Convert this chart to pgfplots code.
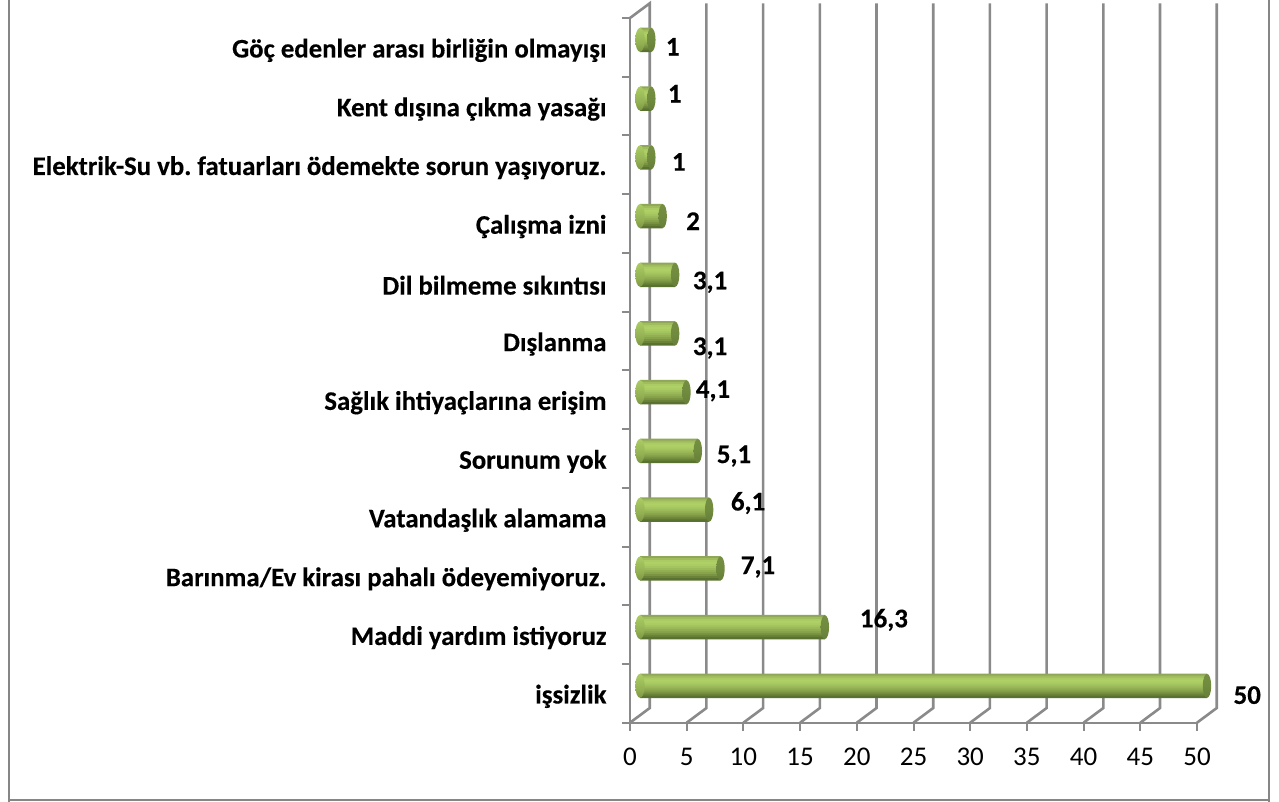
\documentclass[border=0pt]{standalone}
\usepackage{pgfplots}
\pgfplotsset{compat=1.18}
\usepackage{fontspec}
\setmainfont{Carlito}
\frenchspacing
\newcommand{\heavy}{\bfseries\addfontfeature{FakeBold=0.3}}
\definecolor{gridgray}{HTML}{8A8A8A}
\definecolor{framegray}{HTML}{868686}
\definecolor{barA}{HTML}{5A7230}
\definecolor{barB}{HTML}{92AF52}
\definecolor{barC}{HTML}{AED066}
\definecolor{barD}{HTML}{8FA858}
\definecolor{capA}{RGB}{92,116,50}
\definecolor{capB}{RGB}{112,138,62}
\definecolor{capC}{RGB}{122,148,70}
% strips of the bar, top to bottom
\definecolor{strip11}{HTML}{8FA858}
\definecolor{strip9}{HTML}{A0BC5E}
\definecolor{strip7}{HTML}{ABCC64}
\definecolor{strip5}{HTML}{AED066}
\definecolor{strip3}{HTML}{ABCC63}
\definecolor{strip1}{HTML}{A4C45F}
\definecolor{strip-1}{HTML}{9CBA59}
\definecolor{strip-3}{HTML}{92AF52}
\definecolor{strip-5}{HTML}{87A44B}
\definecolor{strip-7}{HTML}{7A9443}
\definecolor{strip-9}{HTML}{6A8339}
\definecolor{strip-11}{HTML}{5A7230}
\pgfdeclareverticalshading{barshade}{100bp}{
  color(0bp)=(barA);
  color(42bp)=(barB);
  color(79bp)=(barC);
  color(100bp)=(barD)}
\pgfdeclareverticalshading{capshade}{100bp}{
  color(0bp)=(capA);
  color(50bp)=(capB);
  color(100bp)=(capC)}
\pgfdeclareplotmark{capL}{\pgfpathellipse{\pgfpointorigin}{\pgfqpoint{4.7pt}{0pt}}{\pgfqpoint{0pt}{12pt}}\pgfshadepath{barshade}{0}\pgfusepath{discard}}
\pgfdeclareplotmark{capR}{\pgfpathellipse{\pgfpointorigin}{\pgfqpoint{4.2pt}{0pt}}{\pgfqpoint{0pt}{12pt}}\pgfshadepath{capshade}{0}\pgfusepath{discard}}
% values
\pgfplotstableread{
y val
0.5 50
1.5 16.3
2.5 7.1
3.5 6.1
4.5 5.1
5.5 4.1
6.5 3.1
7.5 3.1
8.5 2
9.5 1
10.5 1
11.5 1
}\bars
\begin{document}
\begin{tikzpicture}[x=1pt,y=1pt]
\path[use as bounding box] (0,0) rectangle (1279,801);
\draw[framegray, line width=1.8pt] (9,-2) -- (9,803);
\draw[framegray, line width=1.8pt] (1269,-2) -- (1269,803);
\draw[framegray, line width=1.8pt] (9,0.7) -- (1269,0.7);
\begin{axis}[
  at={(630pt,78.3pt)}, anchor=south west,
  scale only axis, width=567pt, height=704.7pt,
  xmin=0, xmax=50, ymin=0, ymax=12,
  clip=false,
  axis x line*=bottom, axis y line*=left,
  axis line style={gridgray, line width=2.4pt, -},
  tick style={gridgray, line width=2pt},
  tick align=outside,
  major tick length=8pt,
  xtick={0,5,...,50},
  ytick={0,1,...,12},
  yticklabels={},
  extra y ticks={0.5,1.5,...,11.5},
  extra y tick labels={işsizlik,Maddi yardım istiyoruz,Barınma/Ev kirası pahalı ödeyemiyoruz.,Vatandaşlık alamama,Sorunum yok,Sağlık ihtiyaçlarına erişim,Dışlanma,Dil bilmeme sıkıntısı,Çalışma izni,Elektrik-Su vb. fatuarları ödemekte sorun yaşıyoruz.,Kent dışına çıkma yasağı,Göç edenler arası birliğin olmayışı},
  extra y tick style={tick style={draw=none}, major tick length=0pt},
  tick label style={font=\fontsize{27}{30}\selectfont, /pgf/number format/assume math mode=true},
  yticklabel style={font=\fontsize{26.8}{30}\selectfont\heavy, anchor=east, xshift=-20pt, yshift=-3pt},
  xticklabel style={yshift=-14pt},
]
% back wall grid, offset from the front plane
\addplot[gridgray, line width=2.6pt, unbounded coords=jump, forget plot] coordinates {
 (0,0) (1.74,0.25) (1.74,12.25) (0,12) (nan,nan)
 (5,0) (6.74,0.25) (6.74,12.25) (nan,nan)
 (10,0) (11.74,0.25) (11.74,12.25) (nan,nan)
 (15,0) (16.74,0.25) (16.74,12.25) (nan,nan)
 (20,0) (21.74,0.25) (21.74,12.25) (nan,nan)
 (25,0) (26.74,0.25) (26.74,12.25) (nan,nan)
 (30,0) (31.74,0.25) (31.74,12.25) (nan,nan)
 (35,0) (36.74,0.25) (36.74,12.25) (nan,nan)
 (40,0) (41.74,0.25) (41.74,12.25) (nan,nan)
 (45,0) (46.74,0.25) (46.74,12.25) (nan,nan)
 (50,0) (51.74,0.25) (51.74,12.25)
};
\end{axis}
\begin{axis}[
  at={(640pt,85.8pt)}, anchor=south west,
  scale only axis, width=567pt, height=704.7pt,
  xmin=0, xmax=50, ymin=0, ymax=12,
  clip=false, hide axis,
]
\addplot[only marks, mark=capL, forget plot] coordinates {(0,0.5)(0,1.5)(0,2.5)(0,3.5)(0,4.5)(0,5.5)(0,6.5)(0,7.5)(0,8.5)(0,9.5)(0,10.5)(0,11.5)};
% each cylinder is stacked from flat strips, a tikz shade only scales to the bar length
\pgfplotsinvokeforeach{11,9,7,5,3,1,-1,-3,-5,-7,-9,-11}{
  \addplot[xbar, bar width=2.5pt, bar shift=#1pt, draw=none, fill=strip#1, forget plot] table[x=val,y=y] {\bars};
}
\addplot[only marks, mark=capR, forget plot] table[x=val,y=y] {\bars};
\end{axis}
\begin{axis}[
  at={(630pt,78.3pt)}, anchor=south west,
  scale only axis, width=567pt, height=704.7pt,
  xmin=0, xmax=50, ymin=0, ymax=12,
  clip=false, hide axis,
]
% value labels, hand placed as in the original
\addplot[only marks, mark=none, point meta=explicit symbolic,
  nodes near coords, nodes near coords align=center,
  every node near coord/.append style={font=\fontsize{27}{30}\selectfont\heavy, inner sep=0pt}]
  table[meta=lab] {
x y lab
3.77 11.51 1
3.95 10.71 1
4.30 9.55 1
5.56 8.54 2
7.06 7.50 {3,1}
7.06 6.38 {3,1}
7.32 5.65 {4,1}
9.17 4.54 {5,1}
10.41 3.74 {6,1}
11.29 2.65 {7,1}
22.39 1.75 {16,3}
54.43 0.47 50
};
\end{axis}
\end{tikzpicture}
\end{document}
